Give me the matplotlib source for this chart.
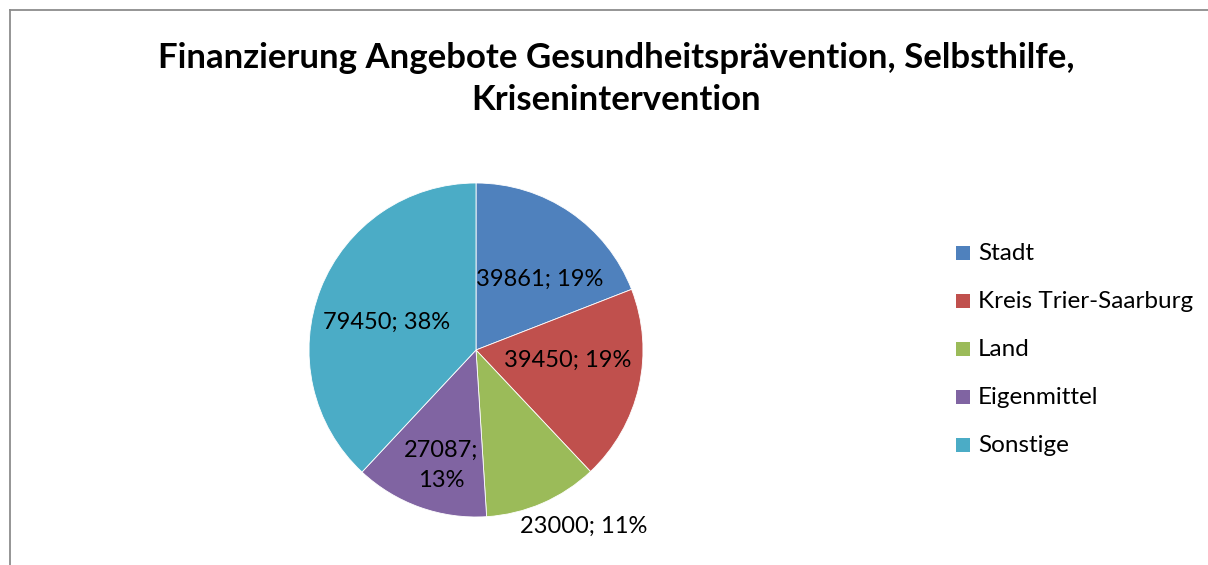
import matplotlib
matplotlib.use("Agg")
import matplotlib.pyplot as plt
from matplotlib.patches import Rectangle
import numpy as np

plt.rcParams['font.family'] = ['Lato', 'DejaVu Sans']

categories = ["Stadt", "Kreis Trier-Saarburg", "Land", "Eigenmittel", "Sonstige"]
values = [39861, 39450, 23000, 27087, 79450]
colors = ["#4F81BD", "#C0504D", "#9BBB59", "#8064A2", "#4BACC6"]
title = "Finanzierung Angebote Gesundheitsprävention, Selbsthilfe,\nKrisenintervention"

# label placement: radial distance in radius units, angle tweak in degrees
label_dist = [0.57, 0.55, 1.24, 0.72, 0.56]
label_turn = [-8, 6, 8, 3, 4.5]
label_wrap = [False, False, False, True, False]

W, H = 1208, 565
fig = plt.figure(figsize=(W / 100, H / 100), dpi=100)

# outer chart frame (open to the right and bottom)
fig.add_artist(plt.Line2D([9.5 / W, 9.5 / W], [-0.05, 1 - 10 / H],
                          transform=fig.transFigure, color="#8c8c8c", linewidth=1.3))
fig.add_artist(plt.Line2D([9.5 / W, 1.05], [1 - 10 / H, 1 - 10 / H],
                          transform=fig.transFigure, color="#8c8c8c", linewidth=1.3))

# pie axes: centre (476, 350) px, radius 167 px
cx, cy, r = 476, 350, 167
half = 1.35 * r
ax = fig.add_axes([(cx - half) / W, (H - cy - half) / H, 2 * half / W, 2 * half / H])

wedges, _ = ax.pie(values, colors=colors, startangle=90, counterclock=False,
                   radius=1.0, wedgeprops=dict(edgecolor="white", linewidth=0.6))
ax.set_xlim(-1.35, 1.35)
ax.set_ylim(-1.35, 1.35)
ax.set_aspect("equal")
ax.axis("off")

total = sum(values)
for w, v, d, t, wrap in zip(wedges, values, label_dist, label_turn, label_wrap):
    ang = np.deg2rad((w.theta1 + w.theta2) / 2 + t)
    pct = round(100 * v / total)
    txt = f"{v};\n{pct}%" if wrap else f"{v}; {pct}%"
    ax.text(d * np.cos(ang), d * np.sin(ang), txt, ha="center", va="center",
            fontsize=17, color="black", linespacing=1.55, clip_on=False)

fig.text(616 / W, 1 - 79 / H, title, ha="center", va="center",
         fontsize=25, fontweight="bold", linespacing=1.4)

# legend
for i, (name, c) in enumerate(zip(categories, colors)):
    y = 253 + 48 * i
    fig.patches.append(Rectangle((956 / W, 1 - (y + 7) / H), 14 / W, 14 / H,
                                 transform=fig.transFigure, facecolor=c,
                                 edgecolor="none"))
    fig.text(978 / W, 1 - y / H, name, ha="left", va="center", fontsize=17.5)

fig.savefig("out.png", dpi=100)
